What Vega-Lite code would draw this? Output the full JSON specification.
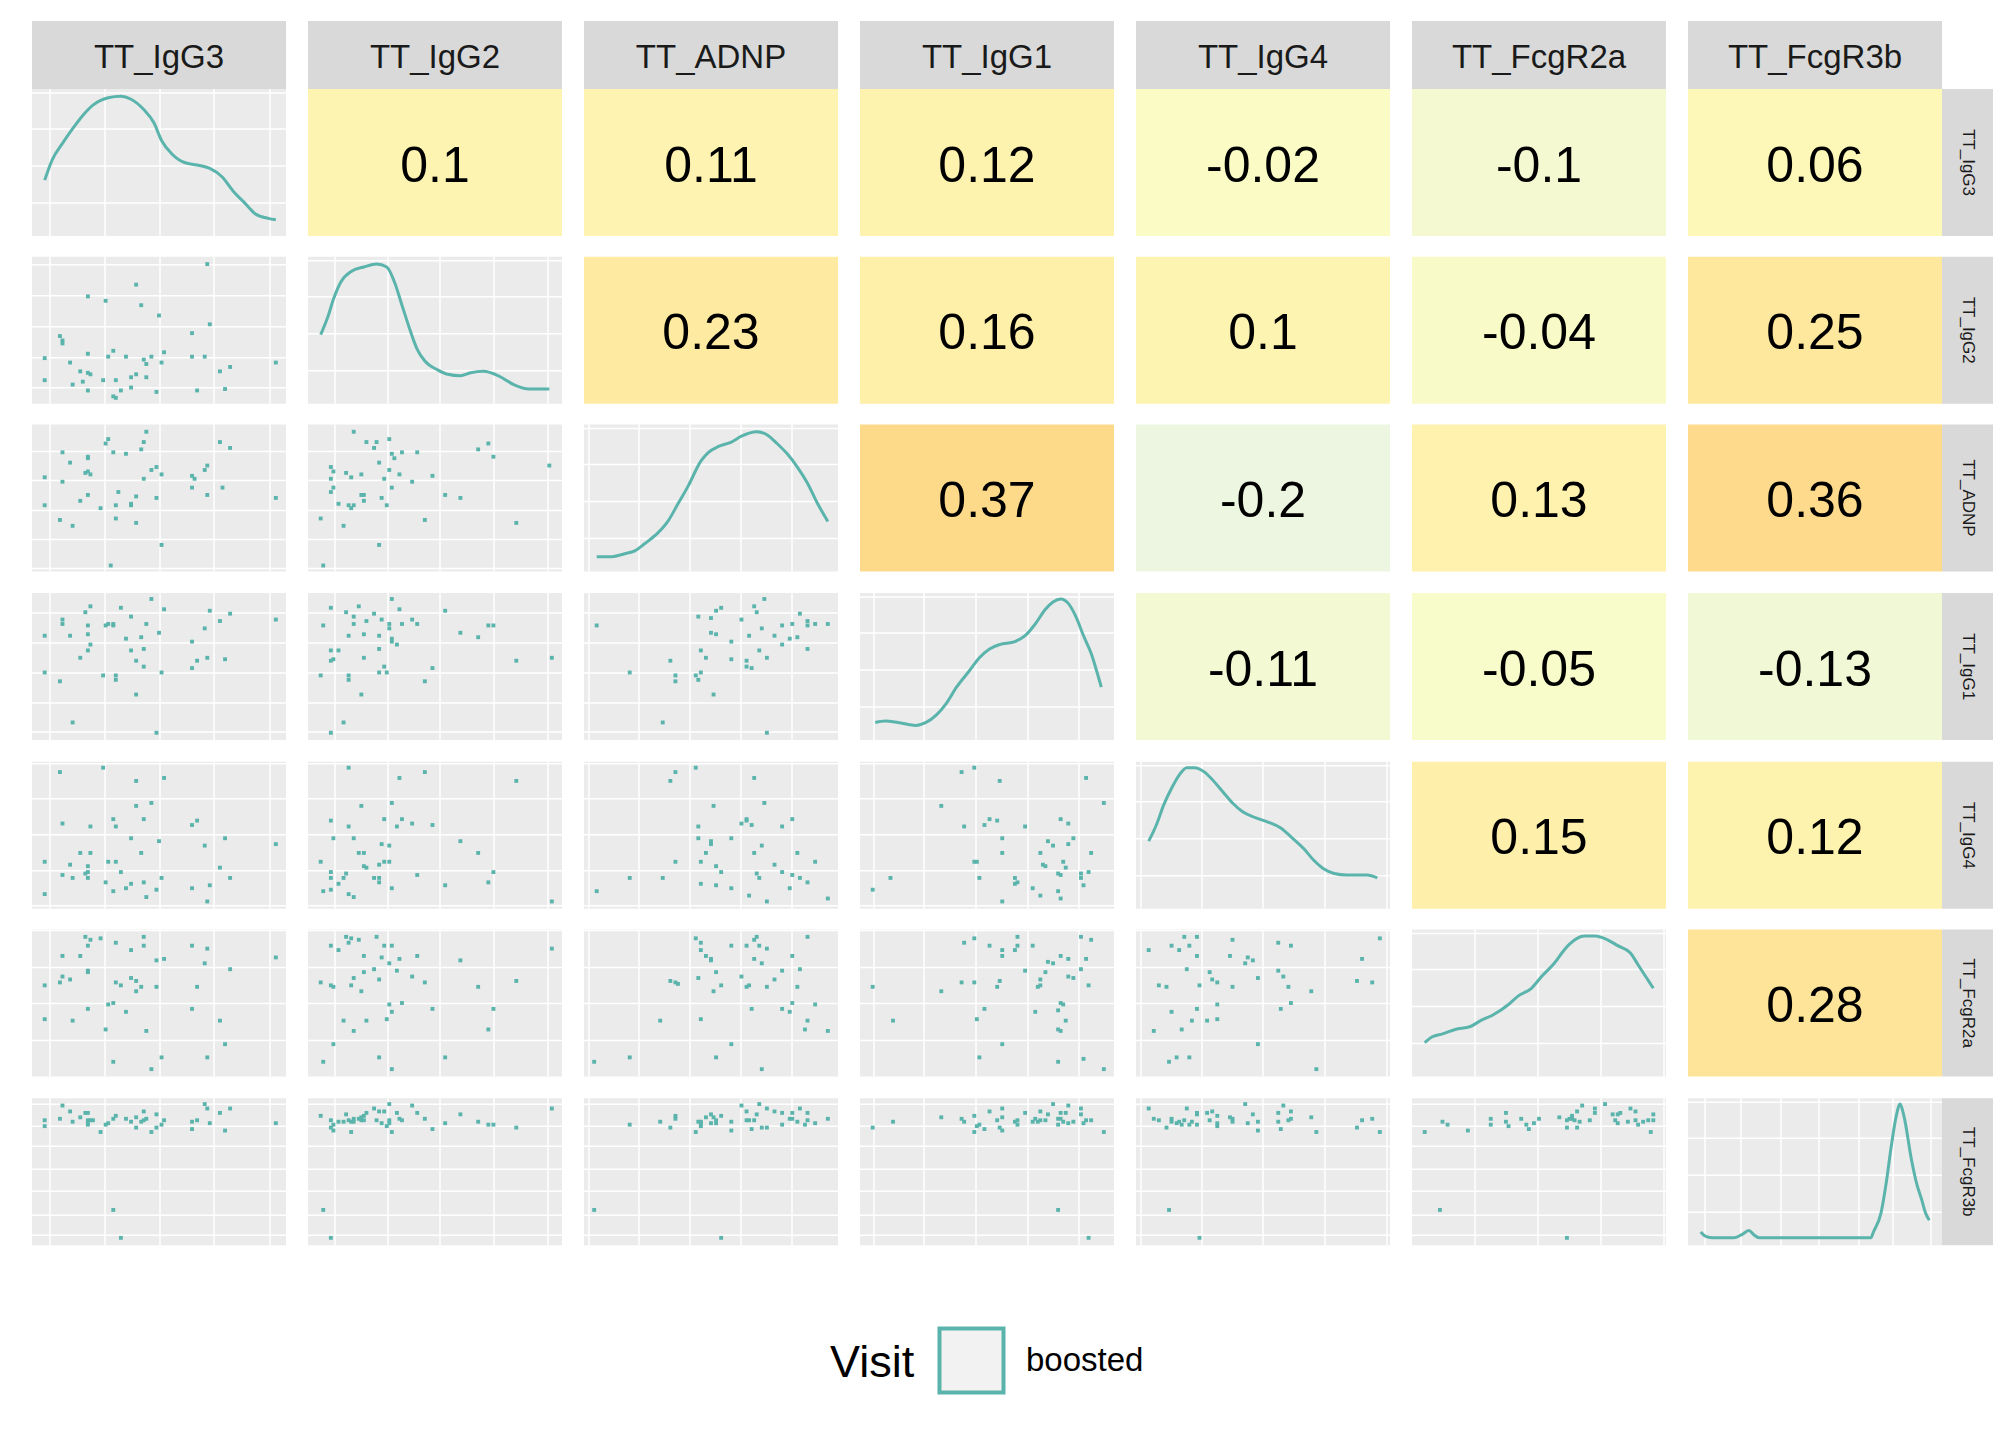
{
  "$schema": "https://vega.github.io/schema/vega-lite/v6.json",
  "background": "white",
  "padding": {"left": 32, "top": 21, "right": 10, "bottom": 10},
  "config": {
    "font": "Liberation Sans",
    "view": {"stroke": null, "fill": "#EBEBEB"},
    "axis": {"labels": false, "ticks": false, "domain": false, "grid": true, "gridColor": "#FFFFFF", "gridOpacity": 1, "minExtent": 0, "maxExtent": 0, "titlePadding": 0, "translate": 0}
  },
  "datasets": {
    "cor": [
      {"i":1,"j":2,"r":0.1},{"i":1,"j":3,"r":0.11},{"i":1,"j":4,"r":0.12},{"i":1,"j":5,"r":-0.02},{"i":1,"j":6,"r":-0.1},{"i":1,"j":7,"r":0.06},
      {"i":2,"j":3,"r":0.23},{"i":2,"j":4,"r":0.16},{"i":2,"j":5,"r":0.1},{"i":2,"j":6,"r":-0.04},{"i":2,"j":7,"r":0.25},
      {"i":3,"j":4,"r":0.37},{"i":3,"j":5,"r":-0.2},{"i":3,"j":6,"r":0.13},{"i":3,"j":7,"r":0.36},
      {"i":4,"j":5,"r":-0.11},{"i":4,"j":6,"r":-0.05},{"i":4,"j":7,"r":-0.13},
      {"i":5,"j":6,"r":0.15},{"i":5,"j":7,"r":0.12},
      {"i":6,"j":7,"r":0.28}
    ],
    "d1": [{"x":5,"y":38},{"x":8,"y":52},{"x":12,"y":63},{"x":16,"y":73},{"x":20,"y":82},{"x":24,"y":89},{"x":30,"y":94},{"x":35,"y":95},{"x":39,"y":93},{"x":44,"y":86},{"x":48,"y":77},{"x":51,"y":65},{"x":55,"y":56},{"x":60,"y":50},{"x":66,"y":48},{"x":70,"y":46},{"x":75,"y":40},{"x":79,"y":31},{"x":84,"y":22},{"x":88,"y":15},{"x":93,"y":12},{"x":96,"y":11}],
    "d2": [{"x":5,"y":47},{"x":8,"y":60},{"x":10,"y":71},{"x":13,"y":83},{"x":17,"y":90},{"x":22,"y":93},{"x":27,"y":95},{"x":31,"y":93},{"x":34,"y":83},{"x":37,"y":67},{"x":40,"y":51},{"x":43,"y":37},{"x":46,"y":29},{"x":51,"y":23},{"x":55,"y":20},{"x":60,"y":19},{"x":64,"y":21},{"x":69,"y":22},{"x":75,"y":19},{"x":81,"y":13},{"x":87,"y":10},{"x":91,"y":10},{"x":95,"y":10}],
    "d3": [{"x":5,"y":10},{"x":11,"y":10},{"x":16,"y":12},{"x":20,"y":14},{"x":24,"y":19},{"x":29,"y":26},{"x":33,"y":34},{"x":37,"y":46},{"x":41,"y":58},{"x":46,"y":75},{"x":49,"y":81},{"x":53,"y":85},{"x":58,"y":88},{"x":62,"y":92},{"x":68,"y":95},{"x":72,"y":93},{"x":76,"y":87},{"x":80,"y":80},{"x":84,"y":71},{"x":88,"y":60},{"x":92,"y":46},{"x":96,"y":34}],
    "d4": [{"x":6,"y":12},{"x":10,"y":13},{"x":15,"y":12},{"x":22,"y":10},{"x":26,"y":12},{"x":30,"y":17},{"x":34,"y":25},{"x":38,"y":36},{"x":43,"y":47},{"x":47,"y":56},{"x":51,"y":62},{"x":55,"y":65},{"x":61,"y":67},{"x":65,"y":71},{"x":69,"y":79},{"x":73,"y":89},{"x":76,"y":94},{"x":79,"y":96},{"x":82,"y":93},{"x":85,"y":84},{"x":88,"y":71},{"x":91,"y":59},{"x":93,"y":48},{"x":95,"y":36}],
    "d5": [{"x":5,"y":46},{"x":8,"y":57},{"x":11,"y":71},{"x":14,"y":82},{"x":17,"y":91},{"x":20,"y":96},{"x":23,"y":96},{"x":27,"y":93},{"x":30,"y":88},{"x":34,"y":80},{"x":38,"y":72},{"x":42,"y":66},{"x":47,"y":62},{"x":52,"y":59},{"x":57,"y":55},{"x":61,"y":49},{"x":66,"y":41},{"x":70,"y":33},{"x":74,"y":27},{"x":78,"y":24},{"x":83,"y":23},{"x":87,"y":23},{"x":91,"y":23},{"x":95,"y":21}],
    "d6": [{"x":5,"y":23},{"x":8,"y":27},{"x":12,"y":29},{"x":17,"y":32},{"x":23,"y":34},{"x":27,"y":38},{"x":32,"y":42},{"x":38,"y":49},{"x":42,"y":55},{"x":47,"y":60},{"x":51,"y":68},{"x":56,"y":77},{"x":59,"y":84},{"x":62,"y":90},{"x":65,"y":94},{"x":68,"y":95.5},{"x":72,"y":95.5},{"x":77,"y":93},{"x":81,"y":89},{"x":86,"y":84},{"x":89,"y":76},{"x":92,"y":68},{"x":95,"y":60}],
    "d7": [{"x":5,"y":9},{"x":7,"y":6},{"x":10,"y":5},{"x":13,"y":5},{"x":18,"y":5},{"x":21,"y":7},{"x":24,"y":10},{"x":26,"y":7},{"x":28,"y":5},{"x":36,"y":5},{"x":51,"y":5},{"x":66,"y":5},{"x":72,"y":5},{"x":73,"y":9},{"x":76,"y":22},{"x":78,"y":42},{"x":80,"y":67},{"x":82,"y":88},{"x":83.5,"y":96},{"x":85,"y":88},{"x":88,"y":58},{"x":90,"y":42},{"x":92,"y":31},{"x":93.5,"y":22},{"x":95,"y":17}],
    "s2_1": [{"x":69,"y":95},{"x":41,"y":81},{"x":22,"y":73},{"x":29,"y":70},{"x":43,"y":67},{"x":50,"y":60},{"x":70,"y":54},{"x":63,"y":48},{"x":11,"y":46},{"x":12,"y":43},{"x":12,"y":41},{"x":22,"y":34},{"x":32,"y":36},{"x":30,"y":32},{"x":37,"y":32},{"x":52,"y":35},{"x":47,"y":32},{"x":44,"y":30},{"x":45,"y":27},{"x":51,"y":28},{"x":63,"y":32},{"x":68,"y":32},{"x":5,"y":31},{"x":15,"y":28},{"x":96,"y":28},{"x":78,"y":25},{"x":74,"y":22},{"x":19,"y":22},{"x":22,"y":21},{"x":23,"y":20},{"x":41,"y":20},{"x":45,"y":18},{"x":39,"y":18},{"x":5,"y":16},{"x":28,"y":16},{"x":33,"y":16},{"x":20,"y":15},{"x":16,"y":13},{"x":76,"y":10},{"x":39,"y":11},{"x":35,"y":9},{"x":22,"y":9},{"x":49,"y":8},{"x":65,"y":9},{"x":32,"y":5},{"x":33,"y":4}],
    "s3_1": [{"x":45,"y":95},{"x":30,"y":90},{"x":29,"y":87},{"x":44,"y":88},{"x":74,"y":88},{"x":78,"y":84},{"x":12,"y":81},{"x":32,"y":81},{"x":37,"y":80},{"x":43,"y":83},{"x":22,"y":78},{"x":22,"y":77},{"x":15,"y":74},{"x":69,"y":72},{"x":68,"y":69},{"x":49,"y":71},{"x":47,"y":69},{"x":21,"y":67},{"x":22,"y":68},{"x":23,"y":66},{"x":51,"y":66},{"x":5,"y":64},{"x":44,"y":63},{"x":63,"y":65},{"x":64,"y":63},{"x":12,"y":61},{"x":63,"y":57},{"x":75,"y":57},{"x":34,"y":54},{"x":22,"y":52},{"x":41,"y":51},{"x":69,"y":52},{"x":49,"y":50},{"x":19,"y":48},{"x":5,"y":45},{"x":33,"y":45},{"x":39,"y":46},{"x":39,"y":45},{"x":27,"y":43},{"x":96,"y":50},{"x":11,"y":35},{"x":33,"y":36},{"x":41,"y":33},{"x":16,"y":31},{"x":51,"y":18},{"x":31,"y":4}],
    "s3_2": [{"x":18,"y":95},{"x":23,"y":88},{"x":27,"y":88},{"x":26,"y":84},{"x":32,"y":90},{"x":33,"y":80},{"x":37,"y":81},{"x":43,"y":81},{"x":34,"y":77},{"x":28,"y":74},{"x":67,"y":83},{"x":71,"y":87},{"x":73,"y":78},{"x":95,"y":72},{"x":9,"y":71},{"x":10,"y":68},{"x":32,"y":69},{"x":15,"y":67},{"x":21,"y":66},{"x":36,"y":66},{"x":17,"y":64},{"x":9,"y":63},{"x":30,"y":63},{"x":41,"y":61},{"x":49,"y":65},{"x":10,"y":57},{"x":33,"y":57},{"x":9,"y":54},{"x":21,"y":52},{"x":22,"y":52},{"x":22,"y":48},{"x":29,"y":50},{"x":54,"y":52},{"x":60,"y":50},{"x":12,"y":46},{"x":16,"y":45},{"x":17,"y":43},{"x":18,"y":45},{"x":31,"y":45},{"x":5,"y":36},{"x":14,"y":31},{"x":46,"y":35},{"x":82,"y":33},{"x":28,"y":18},{"x":6,"y":4}],
    "s4_1": [{"x":47,"y":96},{"x":23,"y":91},{"x":21,"y":87},{"x":35,"y":90},{"x":52,"y":89},{"x":70,"y":88},{"x":78,"y":86},{"x":12,"y":82},{"x":12,"y":79},{"x":22,"y":78},{"x":29,"y":78},{"x":30,"y":79},{"x":32,"y":79},{"x":32,"y":78},{"x":39,"y":84},{"x":45,"y":79},{"x":74,"y":81},{"x":96,"y":82},{"x":68,"y":76},{"x":50,"y":73},{"x":5,"y":71},{"x":15,"y":71},{"x":22,"y":72},{"x":37,"y":69},{"x":43,"y":70},{"x":63,"y":67},{"x":23,"y":65},{"x":22,"y":61},{"x":39,"y":61},{"x":44,"y":62},{"x":19,"y":56},{"x":41,"y":54},{"x":65,"y":54},{"x":69,"y":56},{"x":76,"y":55},{"x":44,"y":50},{"x":63,"y":49},{"x":5,"y":46},{"x":28,"y":44},{"x":33,"y":44},{"x":33,"y":41},{"x":51,"y":46},{"x":11,"y":40},{"x":41,"y":31},{"x":16,"y":12},{"x":49,"y":5}],
    "s4_2": [{"x":33,"y":96},{"x":9,"y":90},{"x":20,"y":91},{"x":15,"y":87},{"x":26,"y":86},{"x":36,"y":89},{"x":54,"y":88},{"x":18,"y":84},{"x":23,"y":81},{"x":29,"y":82},{"x":41,"y":82},{"x":6,"y":78},{"x":18,"y":79},{"x":32,"y":79},{"x":32,"y":76},{"x":37,"y":79},{"x":43,"y":79},{"x":71,"y":78},{"x":73,"y":78},{"x":60,"y":73},{"x":16,"y":71},{"x":22,"y":72},{"x":28,"y":71},{"x":67,"y":70},{"x":33,"y":69},{"x":33,"y":67},{"x":35,"y":65},{"x":9,"y":61},{"x":12,"y":61},{"x":28,"y":62},{"x":22,"y":56},{"x":9,"y":54},{"x":10,"y":55},{"x":82,"y":54},{"x":96,"y":56},{"x":30,"y":50},{"x":49,"y":49},{"x":28,"y":46},{"x":31,"y":46},{"x":5,"y":44},{"x":16,"y":44},{"x":16,"y":41},{"x":46,"y":40},{"x":21,"y":31},{"x":14,"y":12},{"x":9,"y":5}],
    "s4_3": [{"x":5,"y":78},{"x":71,"y":96},{"x":67,"y":91},{"x":68,"y":87},{"x":54,"y":90},{"x":52,"y":88},{"x":85,"y":86},{"x":45,"y":84},{"x":50,"y":83},{"x":62,"y":82},{"x":82,"y":79},{"x":88,"y":81},{"x":91,"y":79},{"x":96,"y":79},{"x":78,"y":78},{"x":88,"y":78},{"x":70,"y":76},{"x":50,"y":73},{"x":52,"y":72},{"x":65,"y":71},{"x":75,"y":71},{"x":84,"y":70},{"x":81,"y":69},{"x":58,"y":67},{"x":78,"y":65},{"x":46,"y":61},{"x":69,"y":61},{"x":88,"y":62},{"x":34,"y":54},{"x":48,"y":56},{"x":58,"y":55},{"x":64,"y":54},{"x":72,"y":56},{"x":64,"y":50},{"x":66,"y":49},{"x":18,"y":46},{"x":36,"y":44},{"x":44,"y":44},{"x":46,"y":46},{"x":36,"y":40},{"x":45,"y":41},{"x":51,"y":31},{"x":31,"y":12},{"x":72,"y":5}],
    "s5_1": [{"x":11,"y":93},{"x":28,"y":96},{"x":41,"y":87},{"x":52,"y":89},{"x":41,"y":70},{"x":47,"y":72},{"x":12,"y":58},{"x":23,"y":56},{"x":32,"y":61},{"x":33,"y":56},{"x":44,"y":61},{"x":65,"y":60},{"x":63,"y":57},{"x":39,"y":48},{"x":50,"y":46},{"x":76,"y":48},{"x":68,"y":43},{"x":96,"y":44},{"x":19,"y":38},{"x":23,"y":38},{"x":43,"y":38},{"x":5,"y":32},{"x":15,"y":30},{"x":22,"y":29},{"x":30,"y":32},{"x":33,"y":32},{"x":74,"y":28},{"x":12,"y":23},{"x":16,"y":21},{"x":21,"y":24},{"x":22,"y":25},{"x":22,"y":21},{"x":35,"y":25},{"x":29,"y":18},{"x":39,"y":17},{"x":44,"y":18},{"x":51,"y":21},{"x":78,"y":21},{"x":37,"y":14},{"x":32,"y":12},{"x":63,"y":14},{"x":70,"y":16},{"x":5,"y":10},{"x":49,"y":13},{"x":45,"y":8},{"x":69,"y":5}],
    "s5_2": [{"x":16,"y":96},{"x":46,"y":93},{"x":36,"y":89},{"x":82,"y":87},{"x":21,"y":70},{"x":33,"y":72},{"x":9,"y":60},{"x":16,"y":56},{"x":30,"y":61},{"x":37,"y":61},{"x":35,"y":56},{"x":41,"y":58},{"x":49,"y":57},{"x":10,"y":48},{"x":18,"y":48},{"x":29,"y":44},{"x":32,"y":43},{"x":60,"y":46},{"x":20,"y":38},{"x":22,"y":38},{"x":67,"y":38},{"x":5,"y":32},{"x":30,"y":32},{"x":32,"y":32},{"x":22,"y":29},{"x":23,"y":28},{"x":28,"y":30},{"x":9,"y":25},{"x":15,"y":24},{"x":9,"y":21},{"x":14,"y":21},{"x":26,"y":21},{"x":28,"y":21},{"x":28,"y":18},{"x":12,"y":17},{"x":43,"y":23},{"x":73,"y":25},{"x":71,"y":18},{"x":33,"y":14},{"x":54,"y":16},{"x":6,"y":12},{"x":9,"y":13},{"x":16,"y":10},{"x":18,"y":8},{"x":96,"y":5}],
    "s5_3": [{"x":36,"y":93},{"x":44,"y":96},{"x":34,"y":87},{"x":67,"y":89},{"x":51,"y":70},{"x":71,"y":72},{"x":45,"y":56},{"x":62,"y":58},{"x":64,"y":60},{"x":64,"y":61},{"x":66,"y":57},{"x":78,"y":56},{"x":82,"y":61},{"x":45,"y":48},{"x":50,"y":46},{"x":50,"y":44},{"x":58,"y":48},{"x":70,"y":43},{"x":48,"y":38},{"x":67,"y":38},{"x":84,"y":38},{"x":36,"y":32},{"x":46,"y":32},{"x":75,"y":30},{"x":91,"y":32},{"x":52,"y":29},{"x":54,"y":25},{"x":68,"y":24},{"x":69,"y":21},{"x":78,"y":25},{"x":82,"y":23},{"x":85,"y":21},{"x":88,"y":18},{"x":18,"y":21},{"x":31,"y":21},{"x":46,"y":17},{"x":52,"y":16},{"x":58,"y":14},{"x":81,"y":14},{"x":5,"y":12},{"x":65,"y":9},{"x":72,"y":5},{"x":96,"y":7}],
    "s5_4": [{"x":40,"y":93},{"x":45,"y":96},{"x":55,"y":87},{"x":89,"y":89},{"x":32,"y":70},{"x":96,"y":72},{"x":41,"y":56},{"x":49,"y":57},{"x":51,"y":61},{"x":54,"y":60},{"x":65,"y":56},{"x":79,"y":61},{"x":82,"y":58},{"x":56,"y":48},{"x":74,"y":46},{"x":76,"y":43},{"x":82,"y":44},{"x":84,"y":48},{"x":56,"y":38},{"x":71,"y":38},{"x":91,"y":38},{"x":45,"y":32},{"x":46,"y":32},{"x":72,"y":30},{"x":73,"y":29},{"x":80,"y":32},{"x":81,"y":28},{"x":47,"y":21},{"x":61,"y":21},{"x":62,"y":18},{"x":61,"y":17},{"x":78,"y":24},{"x":79,"y":23},{"x":87,"y":24},{"x":90,"y":25},{"x":87,"y":21},{"x":12,"y":21},{"x":68,"y":14},{"x":88,"y":16},{"x":5,"y":13},{"x":71,"y":9},{"x":78,"y":12},{"x":79,"y":7},{"x":56,"y":5}],
    "s6_1": [{"x":21,"y":95},{"x":23,"y":93},{"x":27,"y":94},{"x":33,"y":91},{"x":44,"y":95},{"x":44,"y":89},{"x":22,"y":89},{"x":39,"y":86},{"x":63,"y":89},{"x":69,"y":87},{"x":12,"y":82},{"x":19,"y":82},{"x":49,"y":79},{"x":52,"y":80},{"x":68,"y":77},{"x":96,"y":81},{"x":78,"y":73},{"x":22,"y":71},{"x":22,"y":72},{"x":12,"y":68},{"x":15,"y":66},{"x":11,"y":64},{"x":5,"y":62},{"x":33,"y":64},{"x":35,"y":62},{"x":39,"y":67},{"x":41,"y":65},{"x":43,"y":61},{"x":41,"y":58},{"x":49,"y":61},{"x":65,"y":61},{"x":30,"y":49},{"x":32,"y":50},{"x":22,"y":46},{"x":37,"y":44},{"x":63,"y":46},{"x":5,"y":39},{"x":16,"y":38},{"x":74,"y":38},{"x":29,"y":32},{"x":45,"y":31},{"x":76,"y":22},{"x":51,"y":13},{"x":69,"y":13},{"x":32,"y":10},{"x":47,"y":5}],
    "s6_2": [{"x":15,"y":95},{"x":17,"y":94},{"x":16,"y":91},{"x":20,"y":93},{"x":27,"y":95},{"x":9,"y":89},{"x":12,"y":86},{"x":30,"y":89},{"x":33,"y":89},{"x":96,"y":87},{"x":22,"y":82},{"x":29,"y":81},{"x":36,"y":80},{"x":43,"y":82},{"x":60,"y":79},{"x":32,"y":77},{"x":35,"y":72},{"x":26,"y":73},{"x":22,"y":71},{"x":18,"y":67},{"x":28,"y":66},{"x":5,"y":64},{"x":9,"y":62},{"x":10,"y":61},{"x":17,"y":62},{"x":21,"y":58},{"x":41,"y":68},{"x":46,"y":64},{"x":67,"y":61},{"x":82,"y":65},{"x":32,"y":49},{"x":37,"y":50},{"x":49,"y":46},{"x":33,"y":44},{"x":73,"y":46},{"x":14,"y":38},{"x":23,"y":38},{"x":31,"y":39},{"x":18,"y":31},{"x":71,"y":32},{"x":10,"y":22},{"x":28,"y":13},{"x":54,"y":13},{"x":6,"y":10},{"x":33,"y":5}],
    "s6_3": [{"x":44,"y":94},{"x":46,"y":91},{"x":68,"y":95},{"x":67,"y":93},{"x":88,"y":95},{"x":58,"y":89},{"x":64,"y":89},{"x":69,"y":89},{"x":72,"y":87},{"x":46,"y":86},{"x":48,"y":82},{"x":50,"y":80},{"x":50,"y":79},{"x":67,"y":80},{"x":70,"y":77},{"x":82,"y":82},{"x":85,"y":73},{"x":78,"y":72},{"x":52,"y":71},{"x":62,"y":68},{"x":75,"y":66},{"x":45,"y":67},{"x":34,"y":65},{"x":36,"y":64},{"x":37,"y":63},{"x":54,"y":62},{"x":51,"y":58},{"x":64,"y":61},{"x":65,"y":62},{"x":72,"y":61},{"x":84,"y":61},{"x":82,"y":50},{"x":91,"y":49},{"x":66,"y":46},{"x":78,"y":46},{"x":81,"y":44},{"x":30,"y":38},{"x":46,"y":39},{"x":88,"y":38},{"x":87,"y":32},{"x":96,"y":31},{"x":58,"y":22},{"x":18,"y":13},{"x":52,"y":13},{"x":4,"y":10},{"x":70,"y":5}],
    "s6_4": [{"x":45,"y":94},{"x":41,"y":91},{"x":62,"y":95},{"x":87,"y":95},{"x":91,"y":93},{"x":51,"y":89},{"x":56,"y":86},{"x":61,"y":86},{"x":62,"y":89},{"x":68,"y":89},{"x":56,"y":82},{"x":79,"y":82},{"x":82,"y":80},{"x":89,"y":80},{"x":74,"y":78},{"x":76,"y":77},{"x":65,"y":72},{"x":73,"y":71},{"x":87,"y":73},{"x":82,"y":68},{"x":84,"y":67},{"x":71,"y":66},{"x":55,"y":65},{"x":40,"y":64},{"x":45,"y":64},{"x":54,"y":61},{"x":70,"y":61},{"x":71,"y":62},{"x":90,"y":62},{"x":5,"y":61},{"x":32,"y":58},{"x":79,"y":50},{"x":80,"y":49},{"x":49,"y":46},{"x":69,"y":44},{"x":78,"y":45},{"x":13,"y":38},{"x":46,"y":39},{"x":81,"y":38},{"x":78,"y":32},{"x":79,"y":31},{"x":56,"y":22},{"x":47,"y":13},{"x":88,"y":12},{"x":78,"y":10},{"x":96,"y":5}],
    "s6_5": [{"x":19,"y":95},{"x":24,"y":95},{"x":38,"y":93},{"x":56,"y":91},{"x":61,"y":89},{"x":96,"y":94},{"x":14,"y":89},{"x":21,"y":89},{"x":5,"y":86},{"x":17,"y":86},{"x":24,"y":82},{"x":37,"y":82},{"x":44,"y":81},{"x":46,"y":79},{"x":43,"y":77},{"x":89,"y":80},{"x":20,"y":73},{"x":29,"y":71},{"x":56,"y":72},{"x":30,"y":66},{"x":32,"y":64},{"x":48,"y":67},{"x":58,"y":68},{"x":9,"y":62},{"x":12,"y":61},{"x":25,"y":62},{"x":38,"y":61},{"x":60,"y":61},{"x":87,"y":65},{"x":93,"y":64},{"x":69,"y":58},{"x":32,"y":49},{"x":61,"y":50},{"x":14,"y":44},{"x":24,"y":46},{"x":57,"y":46},{"x":22,"y":38},{"x":28,"y":38},{"x":32,"y":39},{"x":7,"y":31},{"x":18,"y":32},{"x":48,"y":22},{"x":13,"y":10},{"x":16,"y":13},{"x":21,"y":13},{"x":71,"y":5}],
    "s7_1": [{"x":12,"y":95},{"x":15,"y":91},{"x":21,"y":90},{"x":22,"y":90},{"x":11,"y":86},{"x":5,"y":85},{"x":5,"y":81},{"x":16,"y":84},{"x":19,"y":87},{"x":22,"y":85},{"x":23,"y":85},{"x":24,"y":85},{"x":22,"y":82},{"x":22,"y":83},{"x":33,"y":88},{"x":32,"y":86},{"x":30,"y":83},{"x":29,"y":82},{"x":27,"y":77},{"x":37,"y":86},{"x":39,"y":84},{"x":41,"y":87},{"x":43,"y":84},{"x":44,"y":91},{"x":44,"y":85},{"x":45,"y":86},{"x":41,"y":80},{"x":47,"y":77},{"x":49,"y":80},{"x":49,"y":89},{"x":51,"y":82},{"x":52,"y":85},{"x":63,"y":84},{"x":65,"y":85},{"x":63,"y":79},{"x":68,"y":96},{"x":69,"y":93},{"x":74,"y":90},{"x":78,"y":93},{"x":70,"y":83},{"x":76,"y":78},{"x":96,"y":83},{"x":32,"y":24},{"x":35,"y":5}],
    "s7_2": [{"x":5,"y":88},{"x":9,"y":85},{"x":10,"y":82},{"x":9,"y":80},{"x":10,"y":78},{"x":12,"y":84},{"x":14,"y":84},{"x":15,"y":89},{"x":16,"y":85},{"x":17,"y":84},{"x":17,"y":77},{"x":18,"y":86},{"x":18,"y":84},{"x":20,"y":86},{"x":21,"y":85},{"x":21,"y":87},{"x":22,"y":85},{"x":22,"y":88},{"x":23,"y":90},{"x":26,"y":93},{"x":28,"y":91},{"x":30,"y":91},{"x":27,"y":85},{"x":29,"y":83},{"x":31,"y":81},{"x":32,"y":85},{"x":33,"y":77},{"x":32,"y":83},{"x":32,"y":96},{"x":35,"y":90},{"x":36,"y":86},{"x":37,"y":85},{"x":41,"y":95},{"x":43,"y":90},{"x":46,"y":86},{"x":49,"y":79},{"x":54,"y":83},{"x":60,"y":89},{"x":67,"y":84},{"x":71,"y":82},{"x":73,"y":82},{"x":82,"y":80},{"x":96,"y":93},{"x":6,"y":24},{"x":9,"y":5}],
    "s7_3": [{"x":18,"y":82},{"x":30,"y":84},{"x":34,"y":80},{"x":36,"y":86},{"x":36,"y":88},{"x":44,"y":77},{"x":45,"y":84},{"x":46,"y":84},{"x":46,"y":81},{"x":46,"y":83},{"x":48,"y":87},{"x":50,"y":89},{"x":50,"y":83},{"x":51,"y":87},{"x":52,"y":85},{"x":52,"y":83},{"x":54,"y":88},{"x":58,"y":84},{"x":58,"y":78},{"x":62,"y":95},{"x":64,"y":91},{"x":64,"y":85},{"x":65,"y":85},{"x":66,"y":79},{"x":67,"y":85},{"x":68,"y":89},{"x":69,"y":96},{"x":70,"y":80},{"x":72,"y":80},{"x":72,"y":93},{"x":75,"y":91},{"x":78,"y":90},{"x":78,"y":82},{"x":81,"y":86},{"x":82,"y":90},{"x":82,"y":86},{"x":84,"y":84},{"x":85,"y":93},{"x":87,"y":82},{"x":88,"y":85},{"x":88,"y":90},{"x":91,"y":83},{"x":96,"y":86},{"x":4,"y":24},{"x":54,"y":5}],
    "s7_4": [{"x":5,"y":80},{"x":13,"y":84},{"x":32,"y":87},{"x":40,"y":86},{"x":41,"y":84},{"x":45,"y":88},{"x":45,"y":77},{"x":46,"y":81},{"x":47,"y":82},{"x":49,"y":79},{"x":51,"y":91},{"x":54,"y":85},{"x":55,"y":80},{"x":56,"y":78},{"x":56,"y":87},{"x":56,"y":93},{"x":61,"y":84},{"x":62,"y":82},{"x":62,"y":85},{"x":65,"y":90},{"x":68,"y":84},{"x":69,"y":86},{"x":70,"y":84},{"x":71,"y":85},{"x":71,"y":91},{"x":73,"y":85},{"x":74,"y":89},{"x":76,"y":96},{"x":78,"y":82},{"x":78,"y":86},{"x":79,"y":90},{"x":79,"y":86},{"x":80,"y":84},{"x":81,"y":90},{"x":82,"y":95},{"x":82,"y":83},{"x":84,"y":84},{"x":87,"y":93},{"x":87,"y":89},{"x":89,"y":85},{"x":88,"y":83},{"x":91,"y":85},{"x":96,"y":77},{"x":78,"y":24},{"x":90,"y":5}],
    "s7_5": [{"x":5,"y":93},{"x":7,"y":86},{"x":9,"y":85},{"x":12,"y":80},{"x":14,"y":86},{"x":14,"y":84},{"x":16,"y":83},{"x":17,"y":84},{"x":18,"y":82},{"x":19,"y":85},{"x":20,"y":93},{"x":21,"y":82},{"x":22,"y":84},{"x":24,"y":90},{"x":24,"y":89},{"x":24,"y":82},{"x":28,"y":90},{"x":29,"y":85},{"x":30,"y":91},{"x":32,"y":83},{"x":32,"y":88},{"x":32,"y":81},{"x":37,"y":87},{"x":38,"y":84},{"x":38,"y":86},{"x":43,"y":96},{"x":44,"y":83},{"x":46,"y":89},{"x":48,"y":78},{"x":48,"y":84},{"x":56,"y":90},{"x":56,"y":84},{"x":57,"y":79},{"x":58,"y":95},{"x":60,"y":85},{"x":61,"y":91},{"x":61,"y":86},{"x":69,"y":87},{"x":71,"y":77},{"x":87,"y":80},{"x":89,"y":85},{"x":93,"y":86},{"x":96,"y":77},{"x":13,"y":24},{"x":25,"y":5}],
    "s7_6": [{"x":5,"y":77},{"x":12,"y":84},{"x":14,"y":82},{"x":22,"y":78},{"x":31,"y":86},{"x":31,"y":82},{"x":37,"y":90},{"x":37,"y":84},{"x":38,"y":81},{"x":43,"y":86},{"x":45,"y":82},{"x":46,"y":79},{"x":48,"y":83},{"x":50,"y":86},{"x":58,"y":87},{"x":61,"y":85},{"x":61,"y":80},{"x":62,"y":86},{"x":63,"y":86},{"x":63,"y":88},{"x":64,"y":85},{"x":65,"y":91},{"x":65,"y":80},{"x":66,"y":84},{"x":67,"y":95},{"x":70,"y":85},{"x":72,"y":90},{"x":72,"y":93},{"x":76,"y":96},{"x":79,"y":89},{"x":80,"y":85},{"x":81,"y":83},{"x":81,"y":89},{"x":82,"y":90},{"x":85,"y":84},{"x":86,"y":93},{"x":88,"y":91},{"x":88,"y":85},{"x":89,"y":82},{"x":91,"y":84},{"x":93,"y":85},{"x":94,"y":77},{"x":95,"y":89},{"x":95,"y":85},{"x":11,"y":24},{"x":61,"y":5}]
  },
  "spacing": 0,
  "vconcat": [
    {"spacing": 22, "hconcat": [
      {"width":254,"height":68,"view":{"fill":"#D9D9D9"},"data":{"values":[{"v":"TT_IgG3"}]},"mark":{"type":"text","fontSize":33,"dy":3,"color":"#1A1A1A"},"encoding":{"text":{"field":"v","type":"nominal"}}},
      {"width":254,"height":68,"view":{"fill":"#D9D9D9"},"data":{"values":[{"v":"TT_IgG2"}]},"mark":{"type":"text","fontSize":33,"dy":3,"color":"#1A1A1A"},"encoding":{"text":{"field":"v","type":"nominal"}}},
      {"width":254,"height":68,"view":{"fill":"#D9D9D9"},"data":{"values":[{"v":"TT_ADNP"}]},"mark":{"type":"text","fontSize":33,"dy":3,"color":"#1A1A1A"},"encoding":{"text":{"field":"v","type":"nominal"}}},
      {"width":254,"height":68,"view":{"fill":"#D9D9D9"},"data":{"values":[{"v":"TT_IgG1"}]},"mark":{"type":"text","fontSize":33,"dy":3,"color":"#1A1A1A"},"encoding":{"text":{"field":"v","type":"nominal"}}},
      {"width":254,"height":68,"view":{"fill":"#D9D9D9"},"data":{"values":[{"v":"TT_IgG4"}]},"mark":{"type":"text","fontSize":33,"dy":3,"color":"#1A1A1A"},"encoding":{"text":{"field":"v","type":"nominal"}}},
      {"width":254,"height":68,"view":{"fill":"#D9D9D9"},"data":{"values":[{"v":"TT_FcgR2a"}]},"mark":{"type":"text","fontSize":33,"dy":3,"color":"#1A1A1A"},"encoding":{"text":{"field":"v","type":"nominal"}}},
      {"width":254,"height":68,"view":{"fill":"#D9D9D9"},"data":{"values":[{"v":"TT_FcgR3b"}]},"mark":{"type":"text","fontSize":33,"dy":3,"color":"#1A1A1A"},"encoding":{"text":{"field":"v","type":"nominal"}}}
    ]},
    {"spacing": 20.7, "vconcat": [
      {"spacing": 0, "hconcat": [
        {"spacing": 22, "hconcat": [
          {"width":254,"height":147,"data":{"name":"d1"},"layer":[{"mark":{"type":"point","opacity":0},"encoding":{"x":{"datum":50,"type":"quantitative","title":null,"axis":{"values":[7.2,28.8,50.4,71.8,93.7],"gridWidth":1.5}},"y":{"datum":50,"type":"quantitative","title":null,"axis":{"values":[22.5,47.5,72.5,97.5],"gridWidth":1.5}}}},{"mark":{"type":"line","color":"#5ab4ac","strokeWidth":3,"interpolate":"monotone"},"encoding":{"x":{"field":"x","type":"quantitative","title":null,"scale":{"domain":[0,100],"nice":false,"zero":false},"axis":{"values":[18.3,39.4,61.2,83.1],"gridWidth":2.8}},"y":{"field":"y","type":"quantitative","title":null,"scale":{"domain":[0,100],"nice":false,"zero":false},"axis":{"values":[10,35,60,85],"gridWidth":2.8}}}}],"resolve":{"axis":{"x":"independent","y":"independent"}}},
          {"width":254,"height":147,"data":{"name":"cor"},"transform":[{"filter":"datum.i==1&&datum.j==2"}],"layer":[{"mark":"rect","encoding":{"color":{"field":"r","type":"quantitative","scale":{"domain":[-0.2,-0.1,0,0.1,0.25,0.37],"range":["#EDF6E0","#F4F9D2","#FCFCC2","#FEF4B2","#FEE89D","#FDD98A"]},"legend":null}}},{"mark":{"type":"text","fontSize":50,"dy":4,"color":"#000000"},"encoding":{"text":{"field":"r","type":"nominal"}}}]},
          {"width":254,"height":147,"data":{"name":"cor"},"transform":[{"filter":"datum.i==1&&datum.j==3"}],"layer":[{"mark":"rect","encoding":{"color":{"field":"r","type":"quantitative","scale":{"domain":[-0.2,-0.1,0,0.1,0.25,0.37],"range":["#EDF6E0","#F4F9D2","#FCFCC2","#FEF4B2","#FEE89D","#FDD98A"]},"legend":null}}},{"mark":{"type":"text","fontSize":50,"dy":4,"color":"#000000"},"encoding":{"text":{"field":"r","type":"nominal"}}}]},
          {"width":254,"height":147,"data":{"name":"cor"},"transform":[{"filter":"datum.i==1&&datum.j==4"}],"layer":[{"mark":"rect","encoding":{"color":{"field":"r","type":"quantitative","scale":{"domain":[-0.2,-0.1,0,0.1,0.25,0.37],"range":["#EDF6E0","#F4F9D2","#FCFCC2","#FEF4B2","#FEE89D","#FDD98A"]},"legend":null}}},{"mark":{"type":"text","fontSize":50,"dy":4,"color":"#000000"},"encoding":{"text":{"field":"r","type":"nominal"}}}]},
          {"width":254,"height":147,"data":{"name":"cor"},"transform":[{"filter":"datum.i==1&&datum.j==5"}],"layer":[{"mark":"rect","encoding":{"color":{"field":"r","type":"quantitative","scale":{"domain":[-0.2,-0.1,0,0.1,0.25,0.37],"range":["#EDF6E0","#F4F9D2","#FCFCC2","#FEF4B2","#FEE89D","#FDD98A"]},"legend":null}}},{"mark":{"type":"text","fontSize":50,"dy":4,"color":"#000000"},"encoding":{"text":{"field":"r","type":"nominal"}}}]},
          {"width":254,"height":147,"data":{"name":"cor"},"transform":[{"filter":"datum.i==1&&datum.j==6"}],"layer":[{"mark":"rect","encoding":{"color":{"field":"r","type":"quantitative","scale":{"domain":[-0.2,-0.1,0,0.1,0.25,0.37],"range":["#EDF6E0","#F4F9D2","#FCFCC2","#FEF4B2","#FEE89D","#FDD98A"]},"legend":null}}},{"mark":{"type":"text","fontSize":50,"dy":4,"color":"#000000"},"encoding":{"text":{"field":"r","type":"nominal"}}}]},
          {"width":254,"height":147,"data":{"name":"cor"},"transform":[{"filter":"datum.i==1&&datum.j==7"}],"layer":[{"mark":"rect","encoding":{"color":{"field":"r","type":"quantitative","scale":{"domain":[-0.2,-0.1,0,0.1,0.25,0.37],"range":["#EDF6E0","#F4F9D2","#FCFCC2","#FEF4B2","#FEE89D","#FDD98A"]},"legend":null}}},{"mark":{"type":"text","fontSize":50,"dy":4,"color":"#000000"},"encoding":{"text":{"field":"r","type":"nominal"}}}]}
        ]},
        {"width":51,"height":147,"view":{"fill":"#D9D9D9"},"data":{"values":[{"v":"TT_IgG3"}]},"mark":{"type":"text","fontSize":17,"angle":90,"color":"#1A1A1A"},"encoding":{"text":{"field":"v","type":"nominal"}}}
      ]},
      {"spacing": 0, "hconcat": [
        {"spacing": 22, "hconcat": [
          {"width":254,"height":147,"data":{"name":"s2_1"},"layer":[{"mark":{"type":"point","opacity":0},"encoding":{"x":{"datum":50,"type":"quantitative","title":null,"axis":{"values":[7.2,28.8,50.4,71.8,93.7],"gridWidth":1.5}},"y":{"datum":50,"type":"quantitative","title":null,"axis":{"values":[10.8,31.4,52.1,73.2,94.3],"gridWidth":1.5}}}},{"mark":{"type":"square","size":15,"opacity":1,"color":"#5ab4ac"},"encoding":{"x":{"field":"x","type":"quantitative","title":null,"scale":{"domain":[0,100],"nice":false,"zero":false},"axis":{"values":[18.3,39.4,61.2,83.1],"gridWidth":2.8}},"y":{"field":"y","type":"quantitative","title":null,"scale":{"domain":[0,100],"nice":false,"zero":false},"axis":{"values":[20.7,41.8,62.4,83.9],"gridWidth":2.8}}}}],"resolve":{"axis":{"x":"independent","y":"independent"}}},
          {"width":254,"height":147,"data":{"name":"d2"},"layer":[{"mark":{"type":"point","opacity":0},"encoding":{"x":{"datum":50,"type":"quantitative","title":null,"axis":{"values":[10.8,31.4,52.1,73.2,94.3],"gridWidth":1.5}},"y":{"datum":50,"type":"quantitative","title":null,"axis":{"values":[22.5,47.5,72.5,97.5],"gridWidth":1.5}}}},{"mark":{"type":"line","color":"#5ab4ac","strokeWidth":3,"interpolate":"monotone"},"encoding":{"x":{"field":"x","type":"quantitative","title":null,"scale":{"domain":[0,100],"nice":false,"zero":false},"axis":{"values":[20.7,41.8,62.4,83.9],"gridWidth":2.8}},"y":{"field":"y","type":"quantitative","title":null,"scale":{"domain":[0,100],"nice":false,"zero":false},"axis":{"values":[10,35,60,85],"gridWidth":2.8}}}}],"resolve":{"axis":{"x":"independent","y":"independent"}}},
          {"width":254,"height":147,"data":{"name":"cor"},"transform":[{"filter":"datum.i==2&&datum.j==3"}],"layer":[{"mark":"rect","encoding":{"color":{"field":"r","type":"quantitative","scale":{"domain":[-0.2,-0.1,0,0.1,0.25,0.37],"range":["#EDF6E0","#F4F9D2","#FCFCC2","#FEF4B2","#FEE89D","#FDD98A"]},"legend":null}}},{"mark":{"type":"text","fontSize":50,"dy":4,"color":"#000000"},"encoding":{"text":{"field":"r","type":"nominal"}}}]},
          {"width":254,"height":147,"data":{"name":"cor"},"transform":[{"filter":"datum.i==2&&datum.j==4"}],"layer":[{"mark":"rect","encoding":{"color":{"field":"r","type":"quantitative","scale":{"domain":[-0.2,-0.1,0,0.1,0.25,0.37],"range":["#EDF6E0","#F4F9D2","#FCFCC2","#FEF4B2","#FEE89D","#FDD98A"]},"legend":null}}},{"mark":{"type":"text","fontSize":50,"dy":4,"color":"#000000"},"encoding":{"text":{"field":"r","type":"nominal"}}}]},
          {"width":254,"height":147,"data":{"name":"cor"},"transform":[{"filter":"datum.i==2&&datum.j==5"}],"layer":[{"mark":"rect","encoding":{"color":{"field":"r","type":"quantitative","scale":{"domain":[-0.2,-0.1,0,0.1,0.25,0.37],"range":["#EDF6E0","#F4F9D2","#FCFCC2","#FEF4B2","#FEE89D","#FDD98A"]},"legend":null}}},{"mark":{"type":"text","fontSize":50,"dy":4,"color":"#000000"},"encoding":{"text":{"field":"r","type":"nominal"}}}]},
          {"width":254,"height":147,"data":{"name":"cor"},"transform":[{"filter":"datum.i==2&&datum.j==6"}],"layer":[{"mark":"rect","encoding":{"color":{"field":"r","type":"quantitative","scale":{"domain":[-0.2,-0.1,0,0.1,0.25,0.37],"range":["#EDF6E0","#F4F9D2","#FCFCC2","#FEF4B2","#FEE89D","#FDD98A"]},"legend":null}}},{"mark":{"type":"text","fontSize":50,"dy":4,"color":"#000000"},"encoding":{"text":{"field":"r","type":"nominal"}}}]},
          {"width":254,"height":147,"data":{"name":"cor"},"transform":[{"filter":"datum.i==2&&datum.j==7"}],"layer":[{"mark":"rect","encoding":{"color":{"field":"r","type":"quantitative","scale":{"domain":[-0.2,-0.1,0,0.1,0.25,0.37],"range":["#EDF6E0","#F4F9D2","#FCFCC2","#FEF4B2","#FEE89D","#FDD98A"]},"legend":null}}},{"mark":{"type":"text","fontSize":50,"dy":4,"color":"#000000"},"encoding":{"text":{"field":"r","type":"nominal"}}}]}
        ]},
        {"width":51,"height":147,"view":{"fill":"#D9D9D9"},"data":{"values":[{"v":"TT_IgG2"}]},"mark":{"type":"text","fontSize":17,"angle":90,"color":"#1A1A1A"},"encoding":{"text":{"field":"v","type":"nominal"}}}
      ]},
      {"spacing": 0, "hconcat": [
        {"spacing": 22, "hconcat": [
          {"width":254,"height":147,"data":{"name":"s3_1"},"layer":[{"mark":{"type":"point","opacity":0},"encoding":{"x":{"datum":50,"type":"quantitative","title":null,"axis":{"values":[7.2,28.8,50.4,71.8,93.7],"gridWidth":1.5}},"y":{"datum":50,"type":"quantitative","title":null,"axis":{"values":[2.1,21.6,41.6,61.7,81.8],"gridWidth":1.5}}}},{"mark":{"type":"square","size":15,"opacity":1,"color":"#5ab4ac"},"encoding":{"x":{"field":"x","type":"quantitative","title":null,"scale":{"domain":[0,100],"nice":false,"zero":false},"axis":{"values":[18.3,39.4,61.2,83.1],"gridWidth":2.8}},"y":{"field":"y","type":"quantitative","title":null,"scale":{"domain":[0,100],"nice":false,"zero":false},"axis":{"values":[11.6,31.3,51.8,71.9,91.5],"gridWidth":2.8}}}}],"resolve":{"axis":{"x":"independent","y":"independent"}}},
          {"width":254,"height":147,"data":{"name":"s3_2"},"layer":[{"mark":{"type":"point","opacity":0},"encoding":{"x":{"datum":50,"type":"quantitative","title":null,"axis":{"values":[10.8,31.4,52.1,73.2,94.3],"gridWidth":1.5}},"y":{"datum":50,"type":"quantitative","title":null,"axis":{"values":[2.1,21.6,41.6,61.7,81.8],"gridWidth":1.5}}}},{"mark":{"type":"square","size":15,"opacity":1,"color":"#5ab4ac"},"encoding":{"x":{"field":"x","type":"quantitative","title":null,"scale":{"domain":[0,100],"nice":false,"zero":false},"axis":{"values":[20.7,41.8,62.4,83.9],"gridWidth":2.8}},"y":{"field":"y","type":"quantitative","title":null,"scale":{"domain":[0,100],"nice":false,"zero":false},"axis":{"values":[11.6,31.3,51.8,71.9,91.5],"gridWidth":2.8}}}}],"resolve":{"axis":{"x":"independent","y":"independent"}}},
          {"width":254,"height":147,"data":{"name":"d3"},"layer":[{"mark":{"type":"point","opacity":0},"encoding":{"x":{"datum":50,"type":"quantitative","title":null,"axis":{"values":[2.1,21.6,41.6,61.7,81.8],"gridWidth":1.5}},"y":{"datum":50,"type":"quantitative","title":null,"axis":{"values":[22.5,47.5,72.5,97.5],"gridWidth":1.5}}}},{"mark":{"type":"line","color":"#5ab4ac","strokeWidth":3,"interpolate":"monotone"},"encoding":{"x":{"field":"x","type":"quantitative","title":null,"scale":{"domain":[0,100],"nice":false,"zero":false},"axis":{"values":[11.6,31.3,51.8,71.9,91.5],"gridWidth":2.8}},"y":{"field":"y","type":"quantitative","title":null,"scale":{"domain":[0,100],"nice":false,"zero":false},"axis":{"values":[10,35,60,85],"gridWidth":2.8}}}}],"resolve":{"axis":{"x":"independent","y":"independent"}}},
          {"width":254,"height":147,"data":{"name":"cor"},"transform":[{"filter":"datum.i==3&&datum.j==4"}],"layer":[{"mark":"rect","encoding":{"color":{"field":"r","type":"quantitative","scale":{"domain":[-0.2,-0.1,0,0.1,0.25,0.37],"range":["#EDF6E0","#F4F9D2","#FCFCC2","#FEF4B2","#FEE89D","#FDD98A"]},"legend":null}}},{"mark":{"type":"text","fontSize":50,"dy":4,"color":"#000000"},"encoding":{"text":{"field":"r","type":"nominal"}}}]},
          {"width":254,"height":147,"data":{"name":"cor"},"transform":[{"filter":"datum.i==3&&datum.j==5"}],"layer":[{"mark":"rect","encoding":{"color":{"field":"r","type":"quantitative","scale":{"domain":[-0.2,-0.1,0,0.1,0.25,0.37],"range":["#EDF6E0","#F4F9D2","#FCFCC2","#FEF4B2","#FEE89D","#FDD98A"]},"legend":null}}},{"mark":{"type":"text","fontSize":50,"dy":4,"color":"#000000"},"encoding":{"text":{"field":"r","type":"nominal"}}}]},
          {"width":254,"height":147,"data":{"name":"cor"},"transform":[{"filter":"datum.i==3&&datum.j==6"}],"layer":[{"mark":"rect","encoding":{"color":{"field":"r","type":"quantitative","scale":{"domain":[-0.2,-0.1,0,0.1,0.25,0.37],"range":["#EDF6E0","#F4F9D2","#FCFCC2","#FEF4B2","#FEE89D","#FDD98A"]},"legend":null}}},{"mark":{"type":"text","fontSize":50,"dy":4,"color":"#000000"},"encoding":{"text":{"field":"r","type":"nominal"}}}]},
          {"width":254,"height":147,"data":{"name":"cor"},"transform":[{"filter":"datum.i==3&&datum.j==7"}],"layer":[{"mark":"rect","encoding":{"color":{"field":"r","type":"quantitative","scale":{"domain":[-0.2,-0.1,0,0.1,0.25,0.37],"range":["#EDF6E0","#F4F9D2","#FCFCC2","#FEF4B2","#FEE89D","#FDD98A"]},"legend":null}}},{"mark":{"type":"text","fontSize":50,"dy":4,"color":"#000000"},"encoding":{"text":{"field":"r","type":"nominal"}}}]}
        ]},
        {"width":51,"height":147,"view":{"fill":"#D9D9D9"},"data":{"values":[{"v":"TT_ADNP"}]},"mark":{"type":"text","fontSize":17,"angle":90,"color":"#1A1A1A"},"encoding":{"text":{"field":"v","type":"nominal"}}}
      ]},
      {"spacing": 0, "hconcat": [
        {"spacing": 22, "hconcat": [
          {"width":254,"height":147,"data":{"name":"s4_1"},"layer":[{"mark":{"type":"point","opacity":0},"encoding":{"x":{"datum":50,"type":"quantitative","title":null,"axis":{"values":[7.2,28.8,50.4,71.8,93.7],"gridWidth":1.5}},"y":{"datum":50,"type":"quantitative","title":null,"axis":{"values":[5.7,25.1,45.8,66.2,86.3],"gridWidth":1.5}}}},{"mark":{"type":"square","size":15,"opacity":1,"color":"#5ab4ac"},"encoding":{"x":{"field":"x","type":"quantitative","title":null,"scale":{"domain":[0,100],"nice":false,"zero":false},"axis":{"values":[18.3,39.4,61.2,83.1],"gridWidth":2.8}},"y":{"field":"y","type":"quantitative","title":null,"scale":{"domain":[0,100],"nice":false,"zero":false},"axis":{"values":[15.2,35.2,55.9,76.4,96.4],"gridWidth":2.8}}}}],"resolve":{"axis":{"x":"independent","y":"independent"}}},
          {"width":254,"height":147,"data":{"name":"s4_2"},"layer":[{"mark":{"type":"point","opacity":0},"encoding":{"x":{"datum":50,"type":"quantitative","title":null,"axis":{"values":[10.8,31.4,52.1,73.2,94.3],"gridWidth":1.5}},"y":{"datum":50,"type":"quantitative","title":null,"axis":{"values":[5.7,25.1,45.8,66.2,86.3],"gridWidth":1.5}}}},{"mark":{"type":"square","size":15,"opacity":1,"color":"#5ab4ac"},"encoding":{"x":{"field":"x","type":"quantitative","title":null,"scale":{"domain":[0,100],"nice":false,"zero":false},"axis":{"values":[20.7,41.8,62.4,83.9],"gridWidth":2.8}},"y":{"field":"y","type":"quantitative","title":null,"scale":{"domain":[0,100],"nice":false,"zero":false},"axis":{"values":[15.2,35.2,55.9,76.4,96.4],"gridWidth":2.8}}}}],"resolve":{"axis":{"x":"independent","y":"independent"}}},
          {"width":254,"height":147,"data":{"name":"s4_3"},"layer":[{"mark":{"type":"point","opacity":0},"encoding":{"x":{"datum":50,"type":"quantitative","title":null,"axis":{"values":[2.1,21.6,41.6,61.7,81.8],"gridWidth":1.5}},"y":{"datum":50,"type":"quantitative","title":null,"axis":{"values":[5.7,25.1,45.8,66.2,86.3],"gridWidth":1.5}}}},{"mark":{"type":"square","size":15,"opacity":1,"color":"#5ab4ac"},"encoding":{"x":{"field":"x","type":"quantitative","title":null,"scale":{"domain":[0,100],"nice":false,"zero":false},"axis":{"values":[11.6,31.3,51.8,71.9,91.5],"gridWidth":2.8}},"y":{"field":"y","type":"quantitative","title":null,"scale":{"domain":[0,100],"nice":false,"zero":false},"axis":{"values":[15.2,35.2,55.9,76.4,96.4],"gridWidth":2.8}}}}],"resolve":{"axis":{"x":"independent","y":"independent"}}},
          {"width":254,"height":147,"data":{"name":"d4"},"layer":[{"mark":{"type":"point","opacity":0},"encoding":{"x":{"datum":50,"type":"quantitative","title":null,"axis":{"values":[5.7,25.1,45.8,66.2,86.3],"gridWidth":1.5}},"y":{"datum":50,"type":"quantitative","title":null,"axis":{"values":[22.5,47.5,72.5,97.5],"gridWidth":1.5}}}},{"mark":{"type":"line","color":"#5ab4ac","strokeWidth":3,"interpolate":"monotone"},"encoding":{"x":{"field":"x","type":"quantitative","title":null,"scale":{"domain":[0,100],"nice":false,"zero":false},"axis":{"values":[15.2,35.2,55.9,76.4,96.4],"gridWidth":2.8}},"y":{"field":"y","type":"quantitative","title":null,"scale":{"domain":[0,100],"nice":false,"zero":false},"axis":{"values":[10,35,60,85],"gridWidth":2.8}}}}],"resolve":{"axis":{"x":"independent","y":"independent"}}},
          {"width":254,"height":147,"data":{"name":"cor"},"transform":[{"filter":"datum.i==4&&datum.j==5"}],"layer":[{"mark":"rect","encoding":{"color":{"field":"r","type":"quantitative","scale":{"domain":[-0.2,-0.1,0,0.1,0.25,0.37],"range":["#EDF6E0","#F4F9D2","#FCFCC2","#FEF4B2","#FEE89D","#FDD98A"]},"legend":null}}},{"mark":{"type":"text","fontSize":50,"dy":4,"color":"#000000"},"encoding":{"text":{"field":"r","type":"nominal"}}}]},
          {"width":254,"height":147,"data":{"name":"cor"},"transform":[{"filter":"datum.i==4&&datum.j==6"}],"layer":[{"mark":"rect","encoding":{"color":{"field":"r","type":"quantitative","scale":{"domain":[-0.2,-0.1,0,0.1,0.25,0.37],"range":["#EDF6E0","#F4F9D2","#FCFCC2","#FEF4B2","#FEE89D","#FDD98A"]},"legend":null}}},{"mark":{"type":"text","fontSize":50,"dy":4,"color":"#000000"},"encoding":{"text":{"field":"r","type":"nominal"}}}]},
          {"width":254,"height":147,"data":{"name":"cor"},"transform":[{"filter":"datum.i==4&&datum.j==7"}],"layer":[{"mark":"rect","encoding":{"color":{"field":"r","type":"quantitative","scale":{"domain":[-0.2,-0.1,0,0.1,0.25,0.37],"range":["#EDF6E0","#F4F9D2","#FCFCC2","#FEF4B2","#FEE89D","#FDD98A"]},"legend":null}}},{"mark":{"type":"text","fontSize":50,"dy":4,"color":"#000000"},"encoding":{"text":{"field":"r","type":"nominal"}}}]}
        ]},
        {"width":51,"height":147,"view":{"fill":"#D9D9D9"},"data":{"values":[{"v":"TT_IgG1"}]},"mark":{"type":"text","fontSize":17,"angle":90,"color":"#1A1A1A"},"encoding":{"text":{"field":"v","type":"nominal"}}}
      ]},
      {"spacing": 0, "hconcat": [
        {"spacing": 22, "hconcat": [
          {"width":254,"height":147,"data":{"name":"s5_1"},"layer":[{"mark":{"type":"point","opacity":0},"encoding":{"x":{"datum":50,"type":"quantitative","title":null,"axis":{"values":[7.2,28.8,50.4,71.8,93.7],"gridWidth":1.5}},"y":{"datum":50,"type":"quantitative","title":null,"axis":{"values":[2.1,25.8,50.1,74.5,98.9],"gridWidth":1.5}}}},{"mark":{"type":"square","size":15,"opacity":1,"color":"#5ab4ac"},"encoding":{"x":{"field":"x","type":"quantitative","title":null,"scale":{"domain":[0,100],"nice":false,"zero":false},"axis":{"values":[18.3,39.4,61.2,83.1],"gridWidth":2.8}},"y":{"field":"y","type":"quantitative","title":null,"scale":{"domain":[0,100],"nice":false,"zero":false},"axis":{"values":[13.9,38,62.3,86.7],"gridWidth":2.8}}}}],"resolve":{"axis":{"x":"independent","y":"independent"}}},
          {"width":254,"height":147,"data":{"name":"s5_2"},"layer":[{"mark":{"type":"point","opacity":0},"encoding":{"x":{"datum":50,"type":"quantitative","title":null,"axis":{"values":[10.8,31.4,52.1,73.2,94.3],"gridWidth":1.5}},"y":{"datum":50,"type":"quantitative","title":null,"axis":{"values":[2.1,25.8,50.1,74.5,98.9],"gridWidth":1.5}}}},{"mark":{"type":"square","size":15,"opacity":1,"color":"#5ab4ac"},"encoding":{"x":{"field":"x","type":"quantitative","title":null,"scale":{"domain":[0,100],"nice":false,"zero":false},"axis":{"values":[20.7,41.8,62.4,83.9],"gridWidth":2.8}},"y":{"field":"y","type":"quantitative","title":null,"scale":{"domain":[0,100],"nice":false,"zero":false},"axis":{"values":[13.9,38,62.3,86.7],"gridWidth":2.8}}}}],"resolve":{"axis":{"x":"independent","y":"independent"}}},
          {"width":254,"height":147,"data":{"name":"s5_3"},"layer":[{"mark":{"type":"point","opacity":0},"encoding":{"x":{"datum":50,"type":"quantitative","title":null,"axis":{"values":[2.1,21.6,41.6,61.7,81.8],"gridWidth":1.5}},"y":{"datum":50,"type":"quantitative","title":null,"axis":{"values":[2.1,25.8,50.1,74.5,98.9],"gridWidth":1.5}}}},{"mark":{"type":"square","size":15,"opacity":1,"color":"#5ab4ac"},"encoding":{"x":{"field":"x","type":"quantitative","title":null,"scale":{"domain":[0,100],"nice":false,"zero":false},"axis":{"values":[11.6,31.3,51.8,71.9,91.5],"gridWidth":2.8}},"y":{"field":"y","type":"quantitative","title":null,"scale":{"domain":[0,100],"nice":false,"zero":false},"axis":{"values":[13.9,38,62.3,86.7],"gridWidth":2.8}}}}],"resolve":{"axis":{"x":"independent","y":"independent"}}},
          {"width":254,"height":147,"data":{"name":"s5_4"},"layer":[{"mark":{"type":"point","opacity":0},"encoding":{"x":{"datum":50,"type":"quantitative","title":null,"axis":{"values":[5.7,25.1,45.8,66.2,86.3],"gridWidth":1.5}},"y":{"datum":50,"type":"quantitative","title":null,"axis":{"values":[2.1,25.8,50.1,74.5,98.9],"gridWidth":1.5}}}},{"mark":{"type":"square","size":15,"opacity":1,"color":"#5ab4ac"},"encoding":{"x":{"field":"x","type":"quantitative","title":null,"scale":{"domain":[0,100],"nice":false,"zero":false},"axis":{"values":[15.2,35.2,55.9,76.4,96.4],"gridWidth":2.8}},"y":{"field":"y","type":"quantitative","title":null,"scale":{"domain":[0,100],"nice":false,"zero":false},"axis":{"values":[13.9,38,62.3,86.7],"gridWidth":2.8}}}}],"resolve":{"axis":{"x":"independent","y":"independent"}}},
          {"width":254,"height":147,"data":{"name":"d5"},"layer":[{"mark":{"type":"point","opacity":0},"encoding":{"x":{"datum":50,"type":"quantitative","title":null,"axis":{"values":[2.1,25.8,50.1,74.5,98.9],"gridWidth":1.5}},"y":{"datum":50,"type":"quantitative","title":null,"axis":{"values":[22.5,47.5,72.5,97.5],"gridWidth":1.5}}}},{"mark":{"type":"line","color":"#5ab4ac","strokeWidth":3,"interpolate":"monotone"},"encoding":{"x":{"field":"x","type":"quantitative","title":null,"scale":{"domain":[0,100],"nice":false,"zero":false},"axis":{"values":[13.9,38,62.3,86.7],"gridWidth":2.8}},"y":{"field":"y","type":"quantitative","title":null,"scale":{"domain":[0,100],"nice":false,"zero":false},"axis":{"values":[10,35,60,85],"gridWidth":2.8}}}}],"resolve":{"axis":{"x":"independent","y":"independent"}}},
          {"width":254,"height":147,"data":{"name":"cor"},"transform":[{"filter":"datum.i==5&&datum.j==6"}],"layer":[{"mark":"rect","encoding":{"color":{"field":"r","type":"quantitative","scale":{"domain":[-0.2,-0.1,0,0.1,0.25,0.37],"range":["#EDF6E0","#F4F9D2","#FCFCC2","#FEF4B2","#FEE89D","#FDD98A"]},"legend":null}}},{"mark":{"type":"text","fontSize":50,"dy":4,"color":"#000000"},"encoding":{"text":{"field":"r","type":"nominal"}}}]},
          {"width":254,"height":147,"data":{"name":"cor"},"transform":[{"filter":"datum.i==5&&datum.j==7"}],"layer":[{"mark":"rect","encoding":{"color":{"field":"r","type":"quantitative","scale":{"domain":[-0.2,-0.1,0,0.1,0.25,0.37],"range":["#EDF6E0","#F4F9D2","#FCFCC2","#FEF4B2","#FEE89D","#FDD98A"]},"legend":null}}},{"mark":{"type":"text","fontSize":50,"dy":4,"color":"#000000"},"encoding":{"text":{"field":"r","type":"nominal"}}}]}
        ]},
        {"width":51,"height":147,"view":{"fill":"#D9D9D9"},"data":{"values":[{"v":"TT_IgG4"}]},"mark":{"type":"text","fontSize":17,"angle":90,"color":"#1A1A1A"},"encoding":{"text":{"field":"v","type":"nominal"}}}
      ]},
      {"spacing": 0, "hconcat": [
        {"spacing": 22, "hconcat": [
          {"width":254,"height":147,"data":{"name":"s6_1"},"layer":[{"mark":{"type":"point","opacity":0},"encoding":{"x":{"datum":50,"type":"quantitative","title":null,"axis":{"values":[7.2,28.8,50.4,71.8,93.7],"gridWidth":1.5}},"y":{"datum":50,"type":"quantitative","title":null,"axis":{"values":[24.8,49.5,74.3,99.1],"gridWidth":1.5}}}},{"mark":{"type":"square","size":15,"opacity":1,"color":"#5ab4ac"},"encoding":{"x":{"field":"x","type":"quantitative","title":null,"scale":{"domain":[0,100],"nice":false,"zero":false},"axis":{"values":[18.3,39.4,61.2,83.1],"gridWidth":2.8}},"y":{"field":"y","type":"quantitative","title":null,"scale":{"domain":[0,100],"nice":false,"zero":false},"axis":{"values":[12,37.2,62.3,87.1],"gridWidth":2.8}}}}],"resolve":{"axis":{"x":"independent","y":"independent"}}},
          {"width":254,"height":147,"data":{"name":"s6_2"},"layer":[{"mark":{"type":"point","opacity":0},"encoding":{"x":{"datum":50,"type":"quantitative","title":null,"axis":{"values":[10.8,31.4,52.1,73.2,94.3],"gridWidth":1.5}},"y":{"datum":50,"type":"quantitative","title":null,"axis":{"values":[24.8,49.5,74.3,99.1],"gridWidth":1.5}}}},{"mark":{"type":"square","size":15,"opacity":1,"color":"#5ab4ac"},"encoding":{"x":{"field":"x","type":"quantitative","title":null,"scale":{"domain":[0,100],"nice":false,"zero":false},"axis":{"values":[20.7,41.8,62.4,83.9],"gridWidth":2.8}},"y":{"field":"y","type":"quantitative","title":null,"scale":{"domain":[0,100],"nice":false,"zero":false},"axis":{"values":[12,37.2,62.3,87.1],"gridWidth":2.8}}}}],"resolve":{"axis":{"x":"independent","y":"independent"}}},
          {"width":254,"height":147,"data":{"name":"s6_3"},"layer":[{"mark":{"type":"point","opacity":0},"encoding":{"x":{"datum":50,"type":"quantitative","title":null,"axis":{"values":[2.1,21.6,41.6,61.7,81.8],"gridWidth":1.5}},"y":{"datum":50,"type":"quantitative","title":null,"axis":{"values":[24.8,49.5,74.3,99.1],"gridWidth":1.5}}}},{"mark":{"type":"square","size":15,"opacity":1,"color":"#5ab4ac"},"encoding":{"x":{"field":"x","type":"quantitative","title":null,"scale":{"domain":[0,100],"nice":false,"zero":false},"axis":{"values":[11.6,31.3,51.8,71.9,91.5],"gridWidth":2.8}},"y":{"field":"y","type":"quantitative","title":null,"scale":{"domain":[0,100],"nice":false,"zero":false},"axis":{"values":[12,37.2,62.3,87.1],"gridWidth":2.8}}}}],"resolve":{"axis":{"x":"independent","y":"independent"}}},
          {"width":254,"height":147,"data":{"name":"s6_4"},"layer":[{"mark":{"type":"point","opacity":0},"encoding":{"x":{"datum":50,"type":"quantitative","title":null,"axis":{"values":[5.7,25.1,45.8,66.2,86.3],"gridWidth":1.5}},"y":{"datum":50,"type":"quantitative","title":null,"axis":{"values":[24.8,49.5,74.3,99.1],"gridWidth":1.5}}}},{"mark":{"type":"square","size":15,"opacity":1,"color":"#5ab4ac"},"encoding":{"x":{"field":"x","type":"quantitative","title":null,"scale":{"domain":[0,100],"nice":false,"zero":false},"axis":{"values":[15.2,35.2,55.9,76.4,96.4],"gridWidth":2.8}},"y":{"field":"y","type":"quantitative","title":null,"scale":{"domain":[0,100],"nice":false,"zero":false},"axis":{"values":[12,37.2,62.3,87.1],"gridWidth":2.8}}}}],"resolve":{"axis":{"x":"independent","y":"independent"}}},
          {"width":254,"height":147,"data":{"name":"s6_5"},"layer":[{"mark":{"type":"point","opacity":0},"encoding":{"x":{"datum":50,"type":"quantitative","title":null,"axis":{"values":[2.1,25.8,50.1,74.5,98.9],"gridWidth":1.5}},"y":{"datum":50,"type":"quantitative","title":null,"axis":{"values":[24.8,49.5,74.3,99.1],"gridWidth":1.5}}}},{"mark":{"type":"square","size":15,"opacity":1,"color":"#5ab4ac"},"encoding":{"x":{"field":"x","type":"quantitative","title":null,"scale":{"domain":[0,100],"nice":false,"zero":false},"axis":{"values":[13.9,38,62.3,86.7],"gridWidth":2.8}},"y":{"field":"y","type":"quantitative","title":null,"scale":{"domain":[0,100],"nice":false,"zero":false},"axis":{"values":[12,37.2,62.3,87.1],"gridWidth":2.8}}}}],"resolve":{"axis":{"x":"independent","y":"independent"}}},
          {"width":254,"height":147,"data":{"name":"d6"},"layer":[{"mark":{"type":"point","opacity":0},"encoding":{"x":{"datum":50,"type":"quantitative","title":null,"axis":{"values":[24.8,49.5,74.3,99.1],"gridWidth":1.5}},"y":{"datum":50,"type":"quantitative","title":null,"axis":{"values":[22.5,47.5,72.5,97.5],"gridWidth":1.5}}}},{"mark":{"type":"line","color":"#5ab4ac","strokeWidth":3,"interpolate":"monotone"},"encoding":{"x":{"field":"x","type":"quantitative","title":null,"scale":{"domain":[0,100],"nice":false,"zero":false},"axis":{"values":[12,37.2,62.3,87.1],"gridWidth":2.8}},"y":{"field":"y","type":"quantitative","title":null,"scale":{"domain":[0,100],"nice":false,"zero":false},"axis":{"values":[10,35,60,85],"gridWidth":2.8}}}}],"resolve":{"axis":{"x":"independent","y":"independent"}}},
          {"width":254,"height":147,"data":{"name":"cor"},"transform":[{"filter":"datum.i==6&&datum.j==7"}],"layer":[{"mark":"rect","encoding":{"color":{"field":"r","type":"quantitative","scale":{"domain":[-0.2,-0.1,0,0.1,0.25,0.37],"range":["#EDF6E0","#F4F9D2","#FCFCC2","#FEF4B2","#FEE89D","#FDD98A"]},"legend":null}}},{"mark":{"type":"text","fontSize":50,"dy":4,"color":"#000000"},"encoding":{"text":{"field":"r","type":"nominal"}}}]}
        ]},
        {"width":51,"height":147,"view":{"fill":"#D9D9D9"},"data":{"values":[{"v":"TT_FcgR2a"}]},"mark":{"type":"text","fontSize":17,"angle":90,"color":"#1A1A1A"},"encoding":{"text":{"field":"v","type":"nominal"}}}
      ]},
      {"spacing": 0, "hconcat": [
        {"spacing": 22, "hconcat": [
          {"width":254,"height":147,"data":{"name":"s7_1"},"layer":[{"mark":{"type":"point","opacity":0},"encoding":{"x":{"datum":50,"type":"quantitative","title":null,"axis":{"values":[7.2,28.8,50.4,71.8,93.7],"gridWidth":1.5}},"y":{"datum":50,"type":"quantitative","title":null,"axis":{"values":[6.5,20.7,36.5,51.5,67.3,80.8,95.8],"gridWidth":1.5}}}},{"mark":{"type":"square","size":15,"opacity":1,"color":"#5ab4ac"},"encoding":{"x":{"field":"x","type":"quantitative","title":null,"scale":{"domain":[0,100],"nice":false,"zero":false},"axis":{"values":[18.3,39.4,61.2,83.1],"gridWidth":2.8}},"y":{"field":"y","type":"quantitative","title":null,"scale":{"domain":[0,100],"nice":false,"zero":false},"axis":{"values":[13.2,29,44,59,74,88.3],"gridWidth":2.8}}}}],"resolve":{"axis":{"x":"independent","y":"independent"}}},
          {"width":254,"height":147,"data":{"name":"s7_2"},"layer":[{"mark":{"type":"point","opacity":0},"encoding":{"x":{"datum":50,"type":"quantitative","title":null,"axis":{"values":[10.8,31.4,52.1,73.2,94.3],"gridWidth":1.5}},"y":{"datum":50,"type":"quantitative","title":null,"axis":{"values":[6.5,20.7,36.5,51.5,67.3,80.8,95.8],"gridWidth":1.5}}}},{"mark":{"type":"square","size":15,"opacity":1,"color":"#5ab4ac"},"encoding":{"x":{"field":"x","type":"quantitative","title":null,"scale":{"domain":[0,100],"nice":false,"zero":false},"axis":{"values":[20.7,41.8,62.4,83.9],"gridWidth":2.8}},"y":{"field":"y","type":"quantitative","title":null,"scale":{"domain":[0,100],"nice":false,"zero":false},"axis":{"values":[13.2,29,44,59,74,88.3],"gridWidth":2.8}}}}],"resolve":{"axis":{"x":"independent","y":"independent"}}},
          {"width":254,"height":147,"data":{"name":"s7_3"},"layer":[{"mark":{"type":"point","opacity":0},"encoding":{"x":{"datum":50,"type":"quantitative","title":null,"axis":{"values":[2.1,21.6,41.6,61.7,81.8],"gridWidth":1.5}},"y":{"datum":50,"type":"quantitative","title":null,"axis":{"values":[6.5,20.7,36.5,51.5,67.3,80.8,95.8],"gridWidth":1.5}}}},{"mark":{"type":"square","size":15,"opacity":1,"color":"#5ab4ac"},"encoding":{"x":{"field":"x","type":"quantitative","title":null,"scale":{"domain":[0,100],"nice":false,"zero":false},"axis":{"values":[11.6,31.3,51.8,71.9,91.5],"gridWidth":2.8}},"y":{"field":"y","type":"quantitative","title":null,"scale":{"domain":[0,100],"nice":false,"zero":false},"axis":{"values":[13.2,29,44,59,74,88.3],"gridWidth":2.8}}}}],"resolve":{"axis":{"x":"independent","y":"independent"}}},
          {"width":254,"height":147,"data":{"name":"s7_4"},"layer":[{"mark":{"type":"point","opacity":0},"encoding":{"x":{"datum":50,"type":"quantitative","title":null,"axis":{"values":[5.7,25.1,45.8,66.2,86.3],"gridWidth":1.5}},"y":{"datum":50,"type":"quantitative","title":null,"axis":{"values":[6.5,20.7,36.5,51.5,67.3,80.8,95.8],"gridWidth":1.5}}}},{"mark":{"type":"square","size":15,"opacity":1,"color":"#5ab4ac"},"encoding":{"x":{"field":"x","type":"quantitative","title":null,"scale":{"domain":[0,100],"nice":false,"zero":false},"axis":{"values":[15.2,35.2,55.9,76.4,96.4],"gridWidth":2.8}},"y":{"field":"y","type":"quantitative","title":null,"scale":{"domain":[0,100],"nice":false,"zero":false},"axis":{"values":[13.2,29,44,59,74,88.3],"gridWidth":2.8}}}}],"resolve":{"axis":{"x":"independent","y":"independent"}}},
          {"width":254,"height":147,"data":{"name":"s7_5"},"layer":[{"mark":{"type":"point","opacity":0},"encoding":{"x":{"datum":50,"type":"quantitative","title":null,"axis":{"values":[2.1,25.8,50.1,74.5,98.9],"gridWidth":1.5}},"y":{"datum":50,"type":"quantitative","title":null,"axis":{"values":[6.5,20.7,36.5,51.5,67.3,80.8,95.8],"gridWidth":1.5}}}},{"mark":{"type":"square","size":15,"opacity":1,"color":"#5ab4ac"},"encoding":{"x":{"field":"x","type":"quantitative","title":null,"scale":{"domain":[0,100],"nice":false,"zero":false},"axis":{"values":[13.9,38,62.3,86.7],"gridWidth":2.8}},"y":{"field":"y","type":"quantitative","title":null,"scale":{"domain":[0,100],"nice":false,"zero":false},"axis":{"values":[13.2,29,44,59,74,88.3],"gridWidth":2.8}}}}],"resolve":{"axis":{"x":"independent","y":"independent"}}},
          {"width":254,"height":147,"data":{"name":"s7_6"},"layer":[{"mark":{"type":"point","opacity":0},"encoding":{"x":{"datum":50,"type":"quantitative","title":null,"axis":{"values":[24.8,49.5,74.3,99.1],"gridWidth":1.5}},"y":{"datum":50,"type":"quantitative","title":null,"axis":{"values":[6.5,20.7,36.5,51.5,67.3,80.8,95.8],"gridWidth":1.5}}}},{"mark":{"type":"square","size":15,"opacity":1,"color":"#5ab4ac"},"encoding":{"x":{"field":"x","type":"quantitative","title":null,"scale":{"domain":[0,100],"nice":false,"zero":false},"axis":{"values":[12,37.2,62.3,87.1],"gridWidth":2.8}},"y":{"field":"y","type":"quantitative","title":null,"scale":{"domain":[0,100],"nice":false,"zero":false},"axis":{"values":[13.2,29,44,59,74,88.3],"gridWidth":2.8}}}}],"resolve":{"axis":{"x":"independent","y":"independent"}}},
          {"width":254,"height":147,"data":{"name":"d7"},"layer":[{"mark":{"type":"point","opacity":0},"encoding":{"x":{"datum":50,"type":"quantitative","title":null,"axis":{"values":[6.5,20.7,36.5,51.5,67.3,80.8,95.8],"gridWidth":1.5}},"y":{"datum":50,"type":"quantitative","title":null,"axis":{"values":[22.5,47.5,72.5,97.5],"gridWidth":1.5}}}},{"mark":{"type":"line","color":"#5ab4ac","strokeWidth":3,"interpolate":"monotone"},"encoding":{"x":{"field":"x","type":"quantitative","title":null,"scale":{"domain":[0,100],"nice":false,"zero":false},"axis":{"values":[13.2,29,44,59,74,88.3],"gridWidth":2.8}},"y":{"field":"y","type":"quantitative","title":null,"scale":{"domain":[0,100],"nice":false,"zero":false},"axis":{"values":[10,35,60,85],"gridWidth":2.8}}}}],"resolve":{"axis":{"x":"independent","y":"independent"}}}
        ]},
        {"width":51,"height":147,"view":{"fill":"#D9D9D9"},"data":{"values":[{"v":"TT_FcgR3b"}]},"mark":{"type":"text","fontSize":17,"angle":90,"color":"#1A1A1A"},"encoding":{"text":{"field":"v","type":"nominal"}}}
      ]}
    ]},
    {"width":20,"height":20,"view":{"fill":null,"stroke":null},"data":{"values":[{"v":"boosted"}]},"mark":{"type":"square","filled":true,"size":0,"stroke":"#5ab4ac","strokeWidth":4,"opacity":0},"encoding":{"fill":{"field":"v","type":"nominal","title":"Visit","scale":{"range":["#F2F2F2"]},"legend":{"orient":"none","legendX":798,"legendY":1305,"direction":"horizontal","titleOrient":"left","titleFontSize":45,"titleFontWeight":"normal","titleColor":"#000000","titleFont":"Liberation Sans","titlePadding":22,"labelFontSize":33,"labelFont":"Liberation Sans","labelColor":"#000000","labelOffset":20,"symbolType":"square","symbolSize":4100,"symbolStrokeWidth":4,"symbolOpacity":1,"symbolStrokeColor":"#5ab4ac"}}}}
  ]
}
